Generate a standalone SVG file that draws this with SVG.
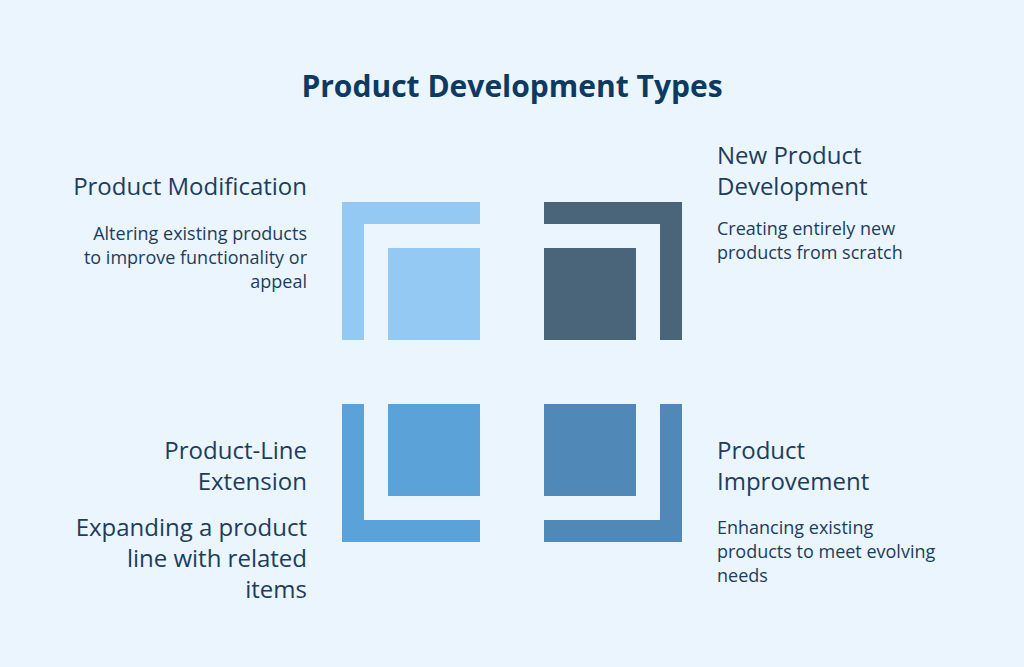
<svg xmlns="http://www.w3.org/2000/svg" width="1024" height="667" viewBox="0 0 1024 667">
<style>
text{font-family:"Open Sans","Liberation Sans",sans-serif;fill:#1d3d5e}
.t{font-size:30px;font-weight:bold;fill:#0d3a60}
.h{font-size:24px}
.d{font-size:18px}
.b{font-size:24px}
</style>
<rect width="1024" height="667" fill="#eaf5fd"/>
<text class="t" x="512" y="97" text-anchor="middle">Product Development Types</text>
<g id="modification">
<path d="M342 202H480V224H364V340H342Z" fill="#93c9f2"/>
<rect x="388" y="248" width="92" height="92" fill="#93c9f2"/>
<text class="h" x="307" y="195" text-anchor="end">Product Modification</text>
<text class="d" text-anchor="end"><tspan x="307" y="240">Altering existing products</tspan><tspan x="307" y="264">to improve functionality or</tspan><tspan x="307" y="288">appeal</tspan></text>
</g>
<g id="new">
<path d="M544 202H682V340H660V224H544Z" fill="#4a6579"/>
<rect x="544" y="248" width="92" height="92" fill="#4a6579"/>
<text class="h"><tspan x="717" y="164">New Product</tspan><tspan x="717" y="195">Development</tspan></text>
<text class="d"><tspan x="717" y="235">Creating entirely new</tspan><tspan x="717" y="259">products from scratch</tspan></text>
</g>
<g id="extension">
<path d="M342 404H364V520H480V542H342Z" fill="#5aa2d7"/>
<rect x="388" y="404" width="92" height="92" fill="#5aa2d7"/>
<text class="h" text-anchor="end"><tspan x="307" y="459">Product-Line</tspan><tspan x="307" y="490">Extension</tspan></text>
<text class="b" text-anchor="end"><tspan x="307" y="536">Expanding a product</tspan><tspan x="307" y="567">line with related</tspan><tspan x="307" y="598">items</tspan></text>
</g>
<g id="improvement">
<path d="M660 404H682V542H544V520H660Z" fill="#5089b8"/>
<rect x="544" y="404" width="92" height="92" fill="#5089b8"/>
<text class="h"><tspan x="717" y="459">Product</tspan><tspan x="717" y="490">Improvement</tspan></text>
<text class="d"><tspan x="717" y="534">Enhancing existing</tspan><tspan x="717" y="558">products to meet evolving</tspan><tspan x="717" y="582">needs</tspan></text>
</g>
<g id="connectors"></g>
</svg>
